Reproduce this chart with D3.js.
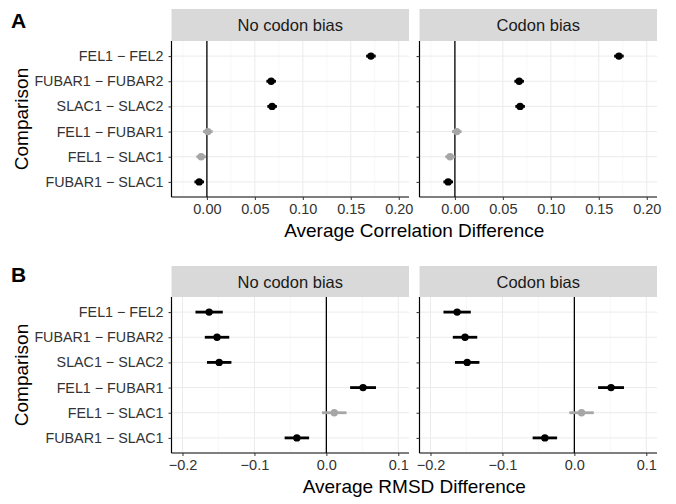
<!DOCTYPE html>
<html>
<head>
<meta charset="utf-8">
<script src="https://cdn.jsdelivr.net/npm/d3@7"></script>
<style>
  body { margin: 0; background: #fff; }
  text { font-family: "Liberation Sans", Arial, sans-serif; }
</style>
</head>
<body>
<div id="chart"></div>
<script>
// comparisons, top to bottom
const comparisons = ["FEL1 − FEL2", "FUBAR1 − FUBAR2", "SLAC1 − SLAC2", "FEL1 − FUBAR1", "FEL1 − SLAC1", "FUBAR1 − SLAC1"]
const facets = ["No codon bias", "Codon bias"]

// panel A: average correlation difference
const corrNoBias = [0.171, 0.067, 0.068, 0.001, -0.006, -0.008]
const corrNoBiasErr = [0.005, 0.005, 0.005, 0.005, 0.005, 0.005]
const corrBias = [0.171, 0.067, 0.068, 0.002, -0.005, -0.007]
const corrBiasErr = [0.005, 0.005, 0.005, 0.005, 0.005, 0.005]
const corrSig = [true, true, true, false, false, true]
const corrTicks = [0, 0.05, 0.10, 0.15, 0.20]

// panel B: average RMSD difference
const rmsdNoBias = [-0.163, -0.152, -0.149, 0.051, 0.011, -0.041]
const rmsdNoBiasErr = [0.019, 0.017, 0.017, 0.018, 0.017, 0.017]
const rmsdBias = [-0.163, -0.152, -0.149, 0.051, 0.010, -0.041]
const rmsdBiasErr = [0.019, 0.017, 0.017, 0.018, 0.017, 0.017]
const rmsdSig = [true, true, true, true, false, true]
const rmsdTicks = [-0.2, -0.1, 0.0, 0.1]

const width = 676, height = 504
const svg = d3.select("#chart").append("svg")
    .attr("width", width)
    .attr("height", height)

const facetX = [[171.5, 409], [419.5, 657]]

function drawPanel(opts) {
    const g = svg.append("g")

    // label A / B
    g.append("text")
        .attr("x", 11).attr("y", opts.letterY)
        .attr("font-size", 21).attr("font-weight", "bold")
        .text(opts.letter)

    const yScale = d3.scalePoint()
        .domain(comparisons)
        .range([opts.plotTop, opts.plotBottom])
        .padding(0.6)

    opts.series.forEach((s, fi) => {
        const [x0, x1] = facetX[fi]
        const xScale = d3.scaleLinear().domain(opts.domain).range([x0, x1])

        // strip
        g.append("rect")
            .attr("x", x0).attr("y", opts.top)
            .attr("width", x1 - x0).attr("height", opts.plotTop - opts.top)
            .attr("fill", "#d9d9d9")
        g.append("text")
            .attr("x", (x0 + x1) / 2).attr("y", (opts.top + opts.plotTop) / 2 + 6)
            .attr("text-anchor", "middle").attr("font-size", 16.5).attr("fill", "#1a1a1a")
            .text(facets[fi])

        // grid
        const minor = opts.ticks.slice(0, -1).map((t, i) => (t + opts.ticks[i + 1]) / 2)
        minor.push(opts.ticks[0] - (opts.ticks[1] - opts.ticks[0]) / 2)
        minor.push(opts.ticks[opts.ticks.length - 1] + (opts.ticks[1] - opts.ticks[0]) / 2)
        g.selectAll(null).data(minor.filter(v => xScale(v) > x0 && xScale(v) < x1)).enter()
            .append("line")
            .attr("x1", d => xScale(d)).attr("x2", d => xScale(d))
            .attr("y1", opts.plotTop).attr("y2", opts.plotBottom)
            .attr("stroke", "#f4f4f4").attr("stroke-width", 0.6)
        g.selectAll(null).data(opts.ticks).enter()
            .append("line")
            .attr("x1", d => xScale(d)).attr("x2", d => xScale(d))
            .attr("y1", opts.plotTop).attr("y2", opts.plotBottom)
            .attr("stroke", "#ebebeb").attr("stroke-width", 1)
        g.selectAll(null).data(comparisons).enter()
            .append("line")
            .attr("x1", x0).attr("x2", x1)
            .attr("y1", d => yScale(d)).attr("y2", d => yScale(d))
            .attr("stroke", "#ebebeb").attr("stroke-width", 1)

        // zero line
        g.append("line")
            .attr("x1", xScale(0)).attr("x2", xScale(0))
            .attr("y1", opts.plotTop).attr("y2", opts.plotBottom)
            .attr("stroke", "#000").attr("stroke-width", 1.3)

        // x axis
        const xAxis = d3.axisBottom(xScale).tickValues(opts.ticks)
            .tickFormat(opts.fmt).tickSize(3).tickPadding(4)
        const ax = g.append("g")
            .attr("transform", `translate(0,${opts.plotBottom})`)
            .call(xAxis)
        ax.select(".domain").attr("d", `M${x0},0H${x1}`).attr("stroke", "#000").attr("stroke-width", 1.2)
        ax.selectAll(".tick line").attr("stroke", "#333")
        ax.selectAll("text").attr("font-size", 14.5).attr("fill", "#333")
            .attr("font-family", "Liberation Sans, Arial, sans-serif")

        // y axis (left facet only gets labels)
        const yAxis = d3.axisLeft(yScale).tickSize(3).tickPadding(5)
        const ay = g.append("g")
            .attr("transform", `translate(${x0},0)`)
            .call(yAxis)
        ay.select(".domain").attr("d", `M0,${opts.plotTop}V${opts.plotBottom}`).attr("stroke", "#000").attr("stroke-width", 1.2)
        ay.selectAll(".tick line").attr("stroke", "#333")
        ay.selectAll("text").attr("font-size", 14.3).attr("fill", "#333")
            .attr("font-family", "Liberation Sans, Arial, sans-serif")
        if (fi > 0) ay.selectAll("text").remove()

        // error bars and points
        const rows = comparisons.map((c, i) => ({ c: c, v: s.vals[i], e: s.err[i], sig: opts.sig[i] }))
        g.selectAll(null).data(rows).enter()
            .append("line")
            .attr("x1", d => xScale(d.v - d.e)).attr("x2", d => xScale(d.v + d.e))
            .attr("y1", d => yScale(d.c)).attr("y2", d => yScale(d.c))
            .attr("stroke", d => d.sig ? "#000" : "#a6a6a6")
            .attr("stroke-width", 2.8)
        g.selectAll(null).data(rows).enter()
            .append("circle")
            .attr("cx", d => xScale(d.v)).attr("cy", d => yScale(d.c))
            .attr("r", 3.7)
            .attr("fill", d => d.sig ? "#000" : "#a6a6a6")
    })

    // axis titles
    g.append("text")
        .attr("x", (facetX[0][0] + facetX[1][1]) / 2).attr("y", opts.plotBottom + 40)
        .attr("text-anchor", "middle").attr("font-size", 19)
        .text(opts.xTitle)
    g.append("text")
        .attr("transform", `translate(28,${(opts.plotTop + opts.plotBottom) / 2}) rotate(-90)`)
        .attr("text-anchor", "middle").attr("font-size", 19)
        .text("Comparison")
}

drawPanel({
    letter: "A", letterY: 28, top: 9, plotTop: 41, plotBottom: 197,
    domain: [-0.0369, 0.2107], ticks: corrTicks, fmt: d3.format(".2f"),
    series: [{ vals: corrNoBias, err: corrNoBiasErr }, { vals: corrBias, err: corrBiasErr }],
    sig: corrSig, xTitle: "Average Correlation Difference"
})

drawPanel({
    letter: "B", letterY: 282, top: 266, plotTop: 297, plotBottom: 453,
    domain: [-0.2153, 0.1149], ticks: rmsdTicks, fmt: d3.format(".1f"),
    series: [{ vals: rmsdNoBias, err: rmsdNoBiasErr }, { vals: rmsdBias, err: rmsdBiasErr }],
    sig: rmsdSig, xTitle: "Average RMSD Difference"
})
</script>
</body>
</html>
